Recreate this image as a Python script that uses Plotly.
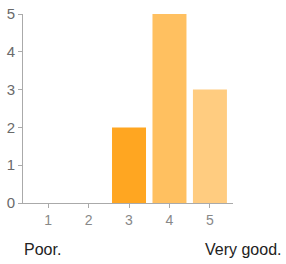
import plotly.graph_objects as go

categories = [1, 2, 3, 4, 5]
counts = [0, 0, 2, 5, 3]
tick_labels = ["1", "2", "3", "4", "5"]
y_ticks = [0, 1, 2, 3, 4, 5]
bar_colors = ["#FFA726", "#FFA726", "#FFA621", "#FFC060", "#FFCC80"]
low_label = "Poor."
high_label = "Very good."

W, H = 286, 264
L, R, T, B = 23, 53, 14, 61

fig = go.Figure(
    go.Bar(
        x=categories,
        y=counts,
        marker=dict(color=bar_colors, line=dict(width=0)),
        width=0.84,
        hoverinfo="x+y",
    )
)

fig.update_layout(
    width=W,
    height=H,
    margin=dict(l=L, r=R, t=T, b=B, pad=0, autoexpand=False),
    paper_bgcolor="white",
    plot_bgcolor="white",
    showlegend=False,
    font=dict(family="Liberation Sans, Arial, sans-serif", size=15, color="#777"),
    xaxis=dict(
        range=[0.38, 5.57],
        tickvals=categories,
        ticktext=tick_labels,
        showgrid=False,
        zeroline=False,
        showline=True,
        linecolor="#aaa",
        linewidth=1,
        ticks="outside",
        ticklen=4,
        tickcolor="#aaa",
        tickfont=dict(size=14, color="#888"),
        automargin=False,
    ),
    yaxis=dict(
        range=[0, 5],
        tickvals=y_ticks,
        showgrid=False,
        zeroline=False,
        showline=True,
        linecolor="#aaa",
        linewidth=1,
        ticks="outside",
        ticklen=4,
        tickcolor="#aaa",
        tickfont=dict(size=15, color="#6a6a6a"),
        automargin=False,
    ),
    annotations=[
        dict(
            text=low_label, xref="paper", yref="paper",
            x=-0.005, y=-0.245, xanchor="left", yanchor="middle",
            showarrow=False, font=dict(size=16, color="#222"),
        ),
        dict(
            text=high_label, xref="paper", yref="paper",
            x=1.242, y=-0.245, xanchor="right", yanchor="middle",
            showarrow=False, font=dict(size=16, color="#222"),
        ),
    ],
)

fig.write_html(
    "out.html",
    config={"displayModeBar": False},
    post_script="document.body.style.margin='0';",
)
